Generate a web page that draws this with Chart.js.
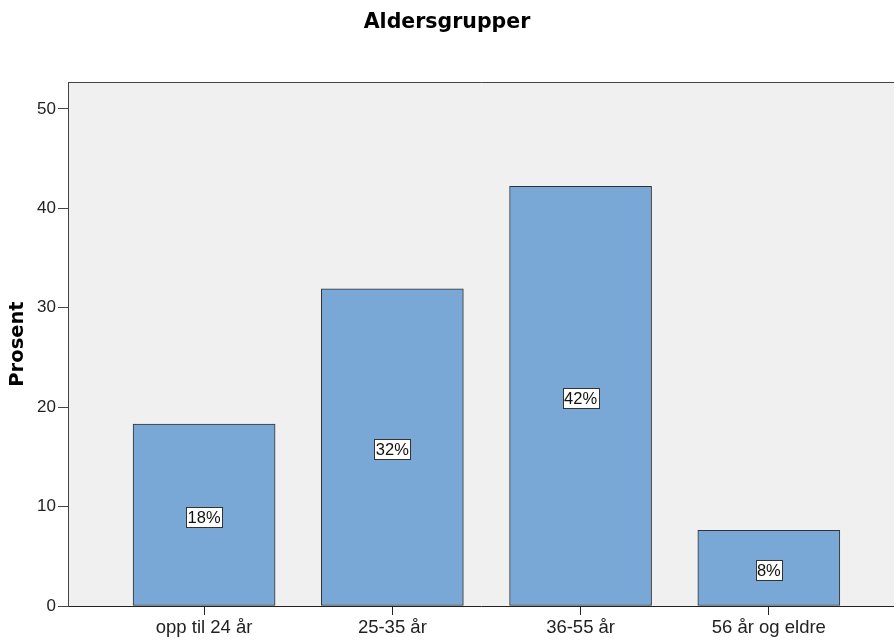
<!DOCTYPE html>
<html>
<head>
<meta charset="utf-8">
<script src="https://cdn.jsdelivr.net/npm/chart.js@4"></script>
<style>
  body { margin: 0; background: #fff; }
  #wrap { width: 894px; height: 640px; }
</style>
</head>
<body>
<div id="wrap"><canvas id="c" width="894" height="640"></canvas></div>
<script>
const categories = ['opp til 24 år', '25-35 år', '36-55 år', '56 år og eldre'];
const percents = [18.3, 31.9, 42.2, 7.6];
const barLabels = ['18%', '32%', '42%', '8%'];
const yTicks = [0, 10, 20, 30, 40, 50];

const FONT = '"Liberation Sans", Arial, sans-serif';
const BOLD = '"DejaVu Sans", sans-serif';

// plot background, frame and title
const frame = {
    id: 'frame',
    beforeDraw(chart) {
        const a = chart.chartArea, ctx = chart.ctx;
        ctx.save();
        ctx.fillStyle = '#f0f0f0';
        ctx.fillRect(a.left, a.top, a.right - a.left, a.bottom - a.top);
        ctx.strokeStyle = '#444';
        ctx.lineWidth = 1;
        ctx.beginPath();
        ctx.moveTo(a.left + 0.5, a.bottom);
        ctx.lineTo(a.left + 0.5, a.top + 0.5);
        ctx.lineTo(a.right, a.top + 0.5);
        ctx.stroke();
        ctx.fillStyle = '#000';
        ctx.font = 'bold 20.5px ' + BOLD;
        ctx.textAlign = 'center';
        ctx.textBaseline = 'middle';
        ctx.fillText('Aldersgrupper', 447, 23);
        ctx.restore();
    }
};

// white boxed percentage labels in bar middle
const boxLabels = {
    id: 'boxLabels',
    afterDatasetsDraw(chart) {
        const ctx = chart.ctx;
        const meta = chart.getDatasetMeta(0);
        ctx.save();
        ctx.font = '16.5px ' + FONT;
        ctx.textAlign = 'center';
        ctx.textBaseline = 'middle';
        meta.data.forEach((bar, i) => {
            const txt = barLabels[i];
            const cy = Math.round((bar.y + bar.base) / 2) + 2;
            const w = Math.ceil(ctx.measureText(txt).width) + 2;
            const h = 20;
            const x0 = Math.round(bar.x - w / 2) + 0.5;
            const y0 = Math.round(cy - h / 2) + 0.5;
            ctx.fillStyle = '#fff';
            ctx.fillRect(x0, y0, w, h);
            ctx.strokeStyle = '#333';
            ctx.lineWidth = 1;
            ctx.strokeRect(x0, y0, w, h);
            ctx.fillStyle = '#111';
            ctx.fillText(txt, bar.x, cy + 1);
        });
        ctx.restore();
    }
};

new Chart(document.getElementById('c'), {
    type: 'bar',
    data: {
        datasets: [{
            data: percents.map((v, i) => ({x: i, y: v})),
            backgroundColor: '#79a8d6',
            borderColor: '#333',
            borderWidth: 1,
            borderSkipped: false,
            barThickness: 142
        }]
    },
    options: {
        responsive: false,
        animation: false,
        layout: {padding: {top: 82, right: 0, left: 0, bottom: 0}},
        plugins: {legend: {display: false}, tooltip: {enabled: false}},
        scales: {
            x: {
                type: 'linear',
                min: -0.723,
                max: 3.665,
                offset: false,
                afterBuildTicks: s => { s.ticks = categories.map((c, i) => ({value: i})); },
                afterFit: s => { s.height = 34; },
                grid: {offset: false, drawOnChartArea: false, drawTicks: true, tickLength: 9, color: '#222', tickWidth: 1},
                border: {display: true, color: '#222', width: 1},
                ticks: {
                    callback: v => categories[v],
                    color: '#222',
                    font: {family: FONT, size: 18.5},
                    padding: 2,
                    maxRotation: 0,
                    autoSkip: false
                }
            },
            y: {
                min: 0,
                max: 52.7,
                afterBuildTicks: s => { s.ticks = yTicks.map(v => ({value: v})); },
                afterFit: s => { s.width = 68; },
                grid: {drawOnChartArea: false, drawTicks: true, tickLength: 10, color: '#444'},
                border: {display: true, color: '#444', width: 1},
                ticks: {
                    color: '#222',
                    font: {family: FONT, size: 17},
                    padding: 2
                },
                title: {
                    display: true,
                    text: 'Prosent',
                    color: '#000',
                    font: {family: BOLD, size: 19.5, weight: 'bold'},
                    padding: {top: 6, bottom: 0}
                }
            }
        }
    },
    plugins: [frame, boxLabels]
});
</script>
</body>
</html>
